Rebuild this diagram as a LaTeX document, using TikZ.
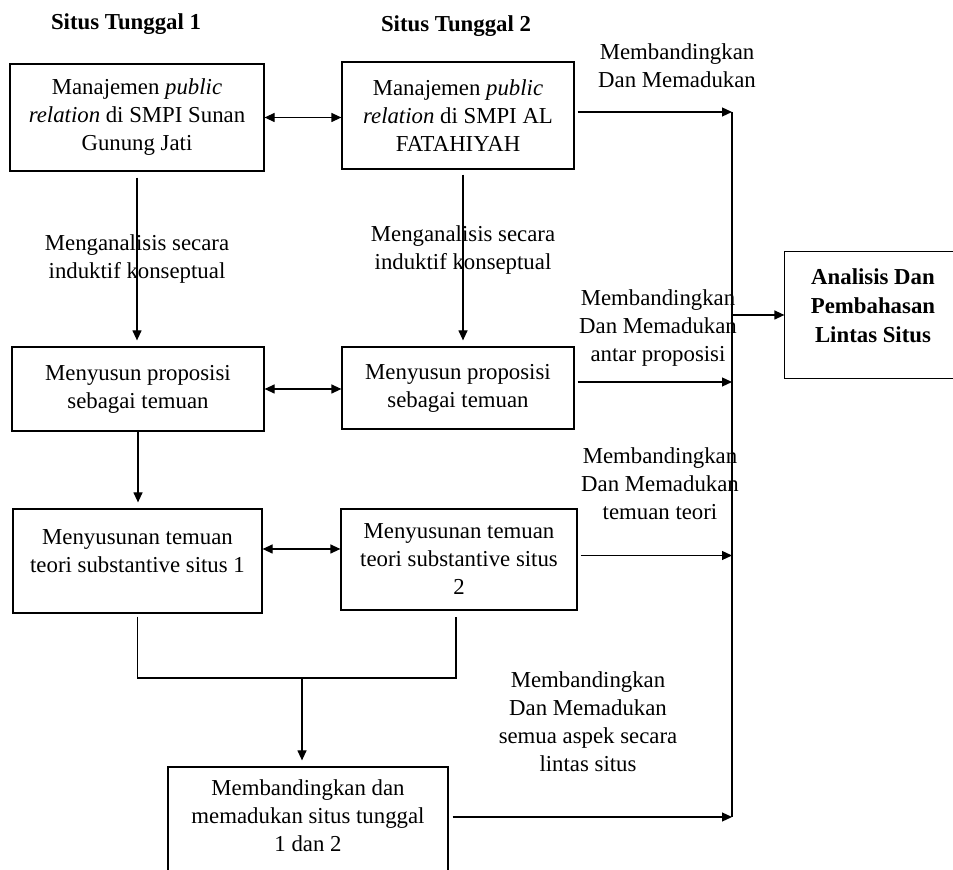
\documentclass[tikz,border=0pt]{standalone}
\usepackage{fontspec}
\setmainfont{Liberation Serif}
\usetikzlibrary{arrows.meta, positioning, calc}

\tikzset{
  kotak/.style={draw, line width=0.6pt, align=center, inner sep=2pt, font=\fontsize{11.4}{14}\selectfont},
  teks/.style={align=center, inner sep=0pt, font=\fontsize{11.4}{14}\selectfont},
  judul/.style={inner sep=0pt, font=\fontsize{11.4}{14}\selectfont\bfseries},
  garis/.style={line width=0.6pt},
  panah/.style={garis, -{Triangle[length=5pt,width=4.5pt]}},
  duapanah/.style={garis, {Triangle[length=5pt,width=4.5pt]}-{Triangle[length=5pt,width=4.5pt]}}
}

\begin{document}
\begin{tikzpicture}[x=0.5pt, y=-0.5pt]
\useasboundingbox (0,0) rectangle (953,870);

% Judul
\node[judul] (judul1) at (126,24) {Situs Tunggal 1};
\node[judul] (judul2) at (456,26) {Situs Tunggal 2};

% Kotak
\node[kotak, minimum width=127pt, minimum height=53.5pt] (a1) at (137,117.5) {Manajemen \textit{public}\\\textit{relation} di SMPI Sunan\\Gunung Jati};
\node[kotak, minimum width=116pt, minimum height=53.5pt] (a2) at (458,115.5) {Manajemen \textit{public}\\\textit{relation} di SMPI AL\\FATAHIYAH};
\node[kotak, minimum width=126pt, minimum height=42pt] (b1) at (138,389) {Menyusun proposisi\\sebagai temuan};
\node[kotak, minimum width=116pt, minimum height=41pt] (b2) at (458,388) {Menyusun proposisi\\sebagai temuan};
\node[kotak, minimum width=124.5pt, minimum height=52pt] (c1) at (137.5,561) {Menyusunan temuan\\teori substantive situs 1\rule[-10.2pt]{0pt}{0pt}};
\node[kotak, minimum width=118pt, minimum height=50.5pt] (c2) at (459,559.5) {Menyusunan temuan\\teori substantive situs\\2};
\node[kotak, minimum width=140pt, minimum height=62pt] (d) at (308,829) {Membandingkan dan\\memadukan situs tunggal\\1 dan 2\rule[-13.7pt]{0pt}{0pt}};
\node[kotak, draw=none, minimum width=88pt, minimum height=63pt, font=\fontsize{11.4}{14.5}\selectfont\bfseries] (e) at (873,315) {Analisis Dan\\Pembahasan\\Lintas Situs\rule[-9.85pt]{0pt}{0pt}};
\draw[garis] (e.north west) rectangle ($(e.south west)+(220,0)$);

% Keterangan
\node[teks] (ket1) at (677,66) {Membandingkan\\Dan Memadukan};
\node[teks] (ket2) at (137,259) {Menganalisis secara\\induktif konseptual};
\node[teks] (ket3) at (463,250) {Menganalisis secara\\induktif konseptual};
\node[teks] (ket4) at (658,328) {Membandingkan\\Dan Memadukan\\antar proposisi};
\node[teks] (ket5) at (660,484) {Membandingkan\\Dan Memadukan\\temuan teori};
\node[teks] (ket6) at (588,722) {Membandingkan\\Dan Memadukan\\semua aspek secara\\lintas situs};

% Panah antar situs
\draw[duapanah] (a1.east) -- (a1.east -| a2.west);
\draw[duapanah] (b1.east) -- (b1.east -| b2.west);
\draw[duapanah] ([yshift=6pt]c1.east) -- ([yshift=6pt]c1.east -| c2.west);

% Panah ke bawah
\draw[panah, shorten <=3pt, shorten >=3pt] (a1.south) -- (a1.south |- b1.north);
\draw[panah, shorten <=2.5pt, shorten >=3pt] ([xshift=2.5pt]a2.south) -- ([xshift=2.5pt]a2.south |- b2.north);
\draw[panah, shorten >=3pt] (b1.south) -- (b1.south |- c1.north);

% Gabungan
\coordinate (gabung) at (302,678);
\draw[garis] ($(c1.south)+(0,3)$) |- (gabung) -| ($(c2.south)+(-3,6)$);
\draw[panah, shorten >=3pt] (gabung) -- (gabung |- d.north);

% Garis kanan
\coordinate (atas) at (732,112);
\coordinate (bawah) at (732,817);
\draw[garis] (atas) -- (bawah);
\draw[panah, shorten <=1.5pt] (a2.east |- atas) -- (atas);
\draw[panah, shorten <=1.5pt] ([yshift=3pt]b2.east) -- ([yshift=3pt]b2.east -| atas);
\draw[panah, shorten <=1.5pt] ([yshift=2pt]c2.east) -- ([yshift=2pt]c2.east -| atas);
\draw[panah, shorten <=2pt] ([yshift=6pt]d.east) -- ([yshift=6pt]d.east -| atas);
\draw[panah] (e.west -| atas) -- (e.west);
\end{tikzpicture}
\end{document}
